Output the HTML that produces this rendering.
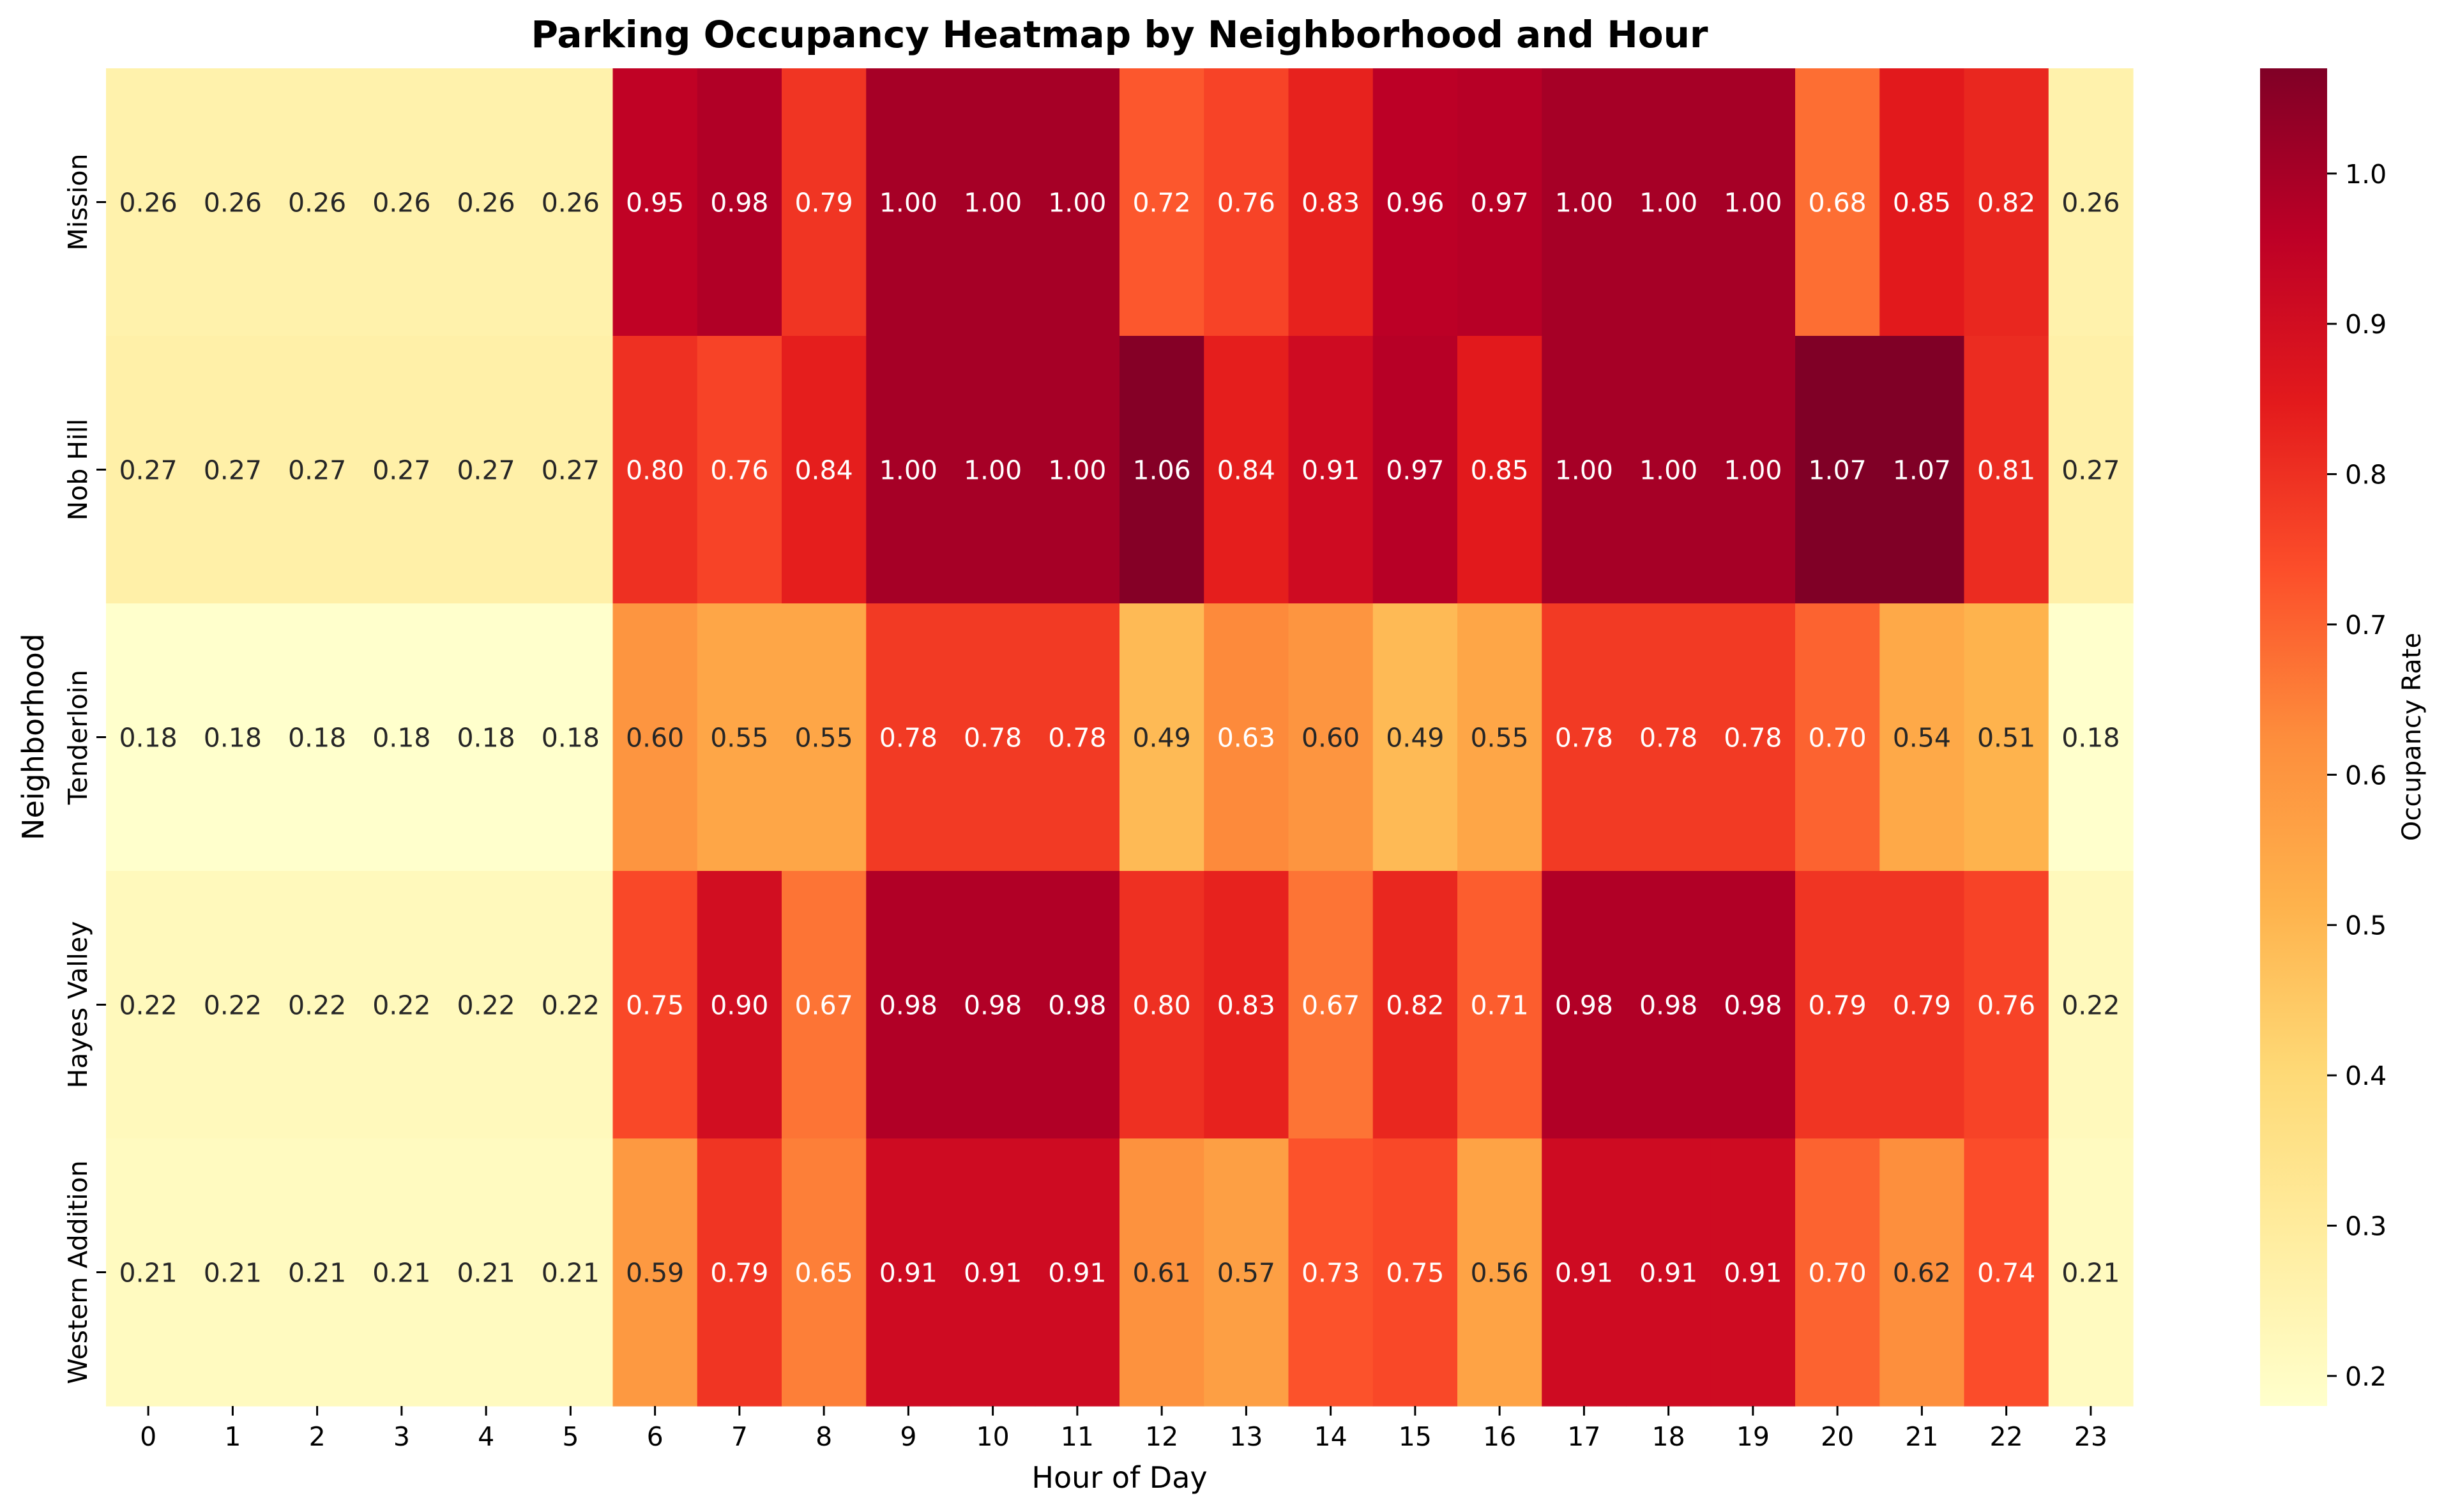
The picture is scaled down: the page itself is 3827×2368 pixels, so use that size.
<!DOCTYPE html>
<html><head><meta charset="utf-8"><style>
html,body{margin:0;padding:0;background:#fff;}
svg{display:block;font-family:"DejaVu Sans","Liberation Sans",sans-serif;}
</style></head><body>
<svg id="chart" width="3827" height="2368" viewBox="0 0 3827 2368" xmlns="http://www.w3.org/2000/svg">
<text x="1753" y="74" text-anchor="middle" font-size="58" font-weight="bold" fill="#000">Parking Occupancy Heatmap by Neighborhood and Hour</text>
<text x="1753" y="2330" text-anchor="middle" font-size="46" fill="#000">Hour of Day</text>
<text transform="translate(68,1154) rotate(-90)" text-anchor="middle" font-size="46" fill="#000">Neighborhood</text>
<text transform="translate(3790,1154) rotate(-90)" text-anchor="middle" font-size="40" fill="#000">Occupancy Rate</text>
<g id="cells"></g>
<g id="xaxis"></g>
<g id="yaxis"></g>
<defs><linearGradient id="cbgrad" x1="0" y1="1" x2="0" y2="0"></linearGradient></defs>
<rect x="3539" y="107" width="105" height="2095" fill="url(#cbgrad)"/>
<g id="cbticks"></g>
</svg>
<script>
const neighborhoods = ["Mission","Nob Hill","Tenderloin","Hayes Valley","Western Addition"];
const hours = ["0","1","2","3","4","5","6","7","8","9","10","11","12","13","14","15","16","17","18","19","20","21","22","23"];
const missionVals = [0.26,0.26,0.26,0.26,0.26,0.26,0.95,0.98,0.79,1.00,1.00,1.00,0.72,0.76,0.83,0.96,0.97,1.00,1.00,1.00,0.68,0.85,0.82,0.26];
const nobHillVals = [0.27,0.27,0.27,0.27,0.27,0.27,0.80,0.76,0.84,1.00,1.00,1.00,1.06,0.84,0.91,0.97,0.85,1.00,1.00,1.00,1.07,1.07,0.81,0.27];
const tenderloinVals = [0.18,0.18,0.18,0.18,0.18,0.18,0.60,0.55,0.55,0.78,0.78,0.78,0.49,0.63,0.60,0.49,0.55,0.78,0.78,0.78,0.70,0.54,0.51,0.18];
const hayesValleyVals = [0.22,0.22,0.22,0.22,0.22,0.22,0.75,0.90,0.67,0.98,0.98,0.98,0.80,0.83,0.67,0.82,0.71,0.98,0.98,0.98,0.79,0.79,0.76,0.22];
const westernAdditionVals = [0.21,0.21,0.21,0.21,0.21,0.21,0.59,0.79,0.65,0.91,0.91,0.91,0.61,0.57,0.73,0.75,0.56,0.91,0.91,0.91,0.70,0.62,0.74,0.21];
const seriesRows = [missionVals,nobHillVals,tenderloinVals,hayesValleyVals,westernAdditionVals];
const colorbarTicks = [0.2,0.3,0.4,0.5,0.6,0.7,0.8,0.9,1.0];

const NS = "http://www.w3.org/2000/svg";
const L = 166, R = 3340, T = 107, B = 2202;
let allVals = seriesRows.flat();
const vmin = Math.min(...allVals), vmax = Math.max(...allVals);
const cw = (R - L) / hours.length, rh = (B - T) / neighborhoods.length;
const xPos = i => L + i * cw;
const yPos = j => T + j * rh;
const stops = ["#ffffcc","#ffeda0","#fed976","#feb24c","#fd8d3c","#fc4e2a","#e31a1c","#bd0026","#800026"];
function hex(h){return [1,3,5].map(k=>parseInt(h.substr(k,2),16));}
function cmap(t){
  t = Math.max(0, Math.min(1, t));
  const p = t * (stops.length - 1), i = Math.min(Math.floor(p), stops.length - 2), f = p - i;
  const a = hex(stops[i]), b = hex(stops[i+1]);
  return a.map((v,k)=>Math.round(v + (b[k]-v)*f));
}
const norm = v => (v - vmin) / (vmax - vmin);
function lum(c){
  const l = c.map(v=>{v/=255;return v<=0.03928? v/12.92 : Math.pow((v+0.055)/1.055,2.4);});
  return 0.2126*l[0]+0.7152*l[1]+0.0722*l[2];
}
function mk(tag, attrs, parent){
  const e = document.createElementNS(NS, tag);
  for (const k in attrs) e.setAttribute(k, attrs[k]);
  parent.appendChild(e); return e;
}
const cells = document.getElementById("cells");
seriesRows.forEach((row, j) => {
  row.forEach((v, i) => {
    const c = cmap(norm(v));
    const r = mk("rect", {x: xPos(i), y: yPos(j), width: cw + 0.6, height: rh + 0.6, fill: `rgb(${c[0]},${c[1]},${c[2]})`}, cells);
    
    
    const t = mk("text", {x: xPos(i) + cw/2, y: yPos(j) + rh/2 + 15, "text-anchor": "middle", "font-size": "41", fill: lum(c) > 0.408 ? "#262626" : "#ffffff"}, cells);
    t.textContent = v.toFixed(2);
    
    
  });
});
const xa = document.getElementById("xaxis");
hours.forEach((h, i) => {
  const cx = xPos(i) + cw/2;
  const tk = mk("line", {x1: cx, y1: B, x2: cx, y2: B + 15, stroke: "#000", "stroke-width": "3"}, xa);
  
  
  const t = mk("text", {x: cx, y: B + 62, "text-anchor": "middle", "font-size": "41", fill: "#000"}, xa);
  t.textContent = h;
  
  
});
const ya = document.getElementById("yaxis");
neighborhoods.forEach((n, j) => {
  const cy = yPos(j) + rh/2;
  const tk = mk("line", {x1: L - 15, y1: cy, x2: L, y2: cy, stroke: "#000", "stroke-width": "3"}, ya);
  
  
  const t = mk("text", {transform: `translate(${L - 30},${cy}) rotate(-90)`, "text-anchor": "middle", "font-size": "41", fill: "#000"}, ya);
  t.textContent = n;
  
  
});
const grad = document.getElementById("cbgrad");
stops.forEach((s, k) => mk("stop", {offset: (k/(stops.length-1)).toString(), "stop-color": s}, grad));
const cb = document.getElementById("cbticks");
const cbY = v => B - norm(v) * (B - T);
colorbarTicks.forEach(v => {
  const y = cbY(v);
  const tk = mk("line", {x1: 3644, y1: y, x2: 3659, y2: y, stroke: "#000", "stroke-width": "3"}, cb);
  
  
  const t = mk("text", {x: 3672, y: y + 15, "font-size": "41", fill: "#000"}, cb);
  t.textContent = v.toFixed(1);
  
  
});
</script>
</body></html>
